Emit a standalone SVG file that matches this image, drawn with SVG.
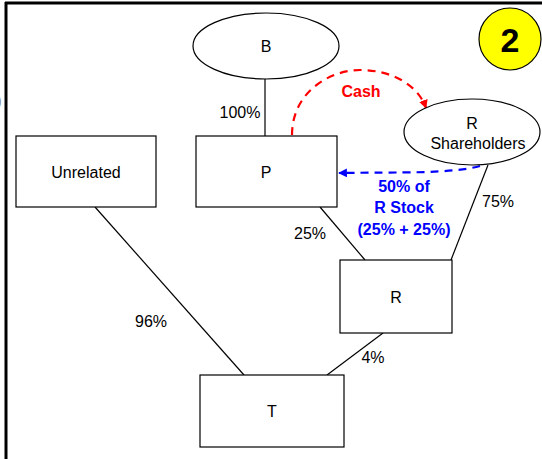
<svg xmlns="http://www.w3.org/2000/svg" width="542" height="459" viewBox="0 0 542 459">
<style>
.n{fill:#fff;stroke:#000;stroke-width:1.2}
.t{font-family:"Liberation Sans",Arial,sans-serif;font-size:16px;fill:#000;text-anchor:middle}
.l{font-family:"Liberation Sans",Arial,sans-serif;font-size:16px;fill:#000;text-anchor:middle}
.c{stroke:#000;stroke-width:1.2;fill:none}
.b{font-family:"Liberation Sans",Arial,sans-serif;font-size:16px;font-weight:bold;text-anchor:middle}
</style>
<defs>
<marker id="ar" viewBox="0 0 10 10" refX="9" refY="5" markerWidth="4" markerHeight="4" orient="auto"><path d="M0,0L10,5L0,10z" fill="#f00"/></marker>
<marker id="ab" viewBox="0 0 10 10" refX="9" refY="5" markerWidth="4" markerHeight="4" orient="auto"><path d="M0,0L10,5L0,10z" fill="#00f"/></marker>
</defs>
<rect width="542" height="459" fill="#fff"/>
<line x1="5" y1="3" x2="542" y2="3" stroke="#000" stroke-width="3"/>
<line x1="6" y1="2" x2="6" y2="459" stroke="#000" stroke-width="3"/>
<text x="-3" y="106" font-family="Liberation Sans,sans-serif" font-size="14" fill="#888">)</text>
<g id="badge">
<circle cx="510" cy="39" r="31" fill="#ff0" stroke="#000" stroke-width="1.2"/>
<text x="510" y="52" class="b" style="font-size:34px">2</text>
</g>
<g id="connectors">
<line class="c" x1="265" y1="79" x2="265" y2="136"/>
<line class="c" x1="320" y1="207" x2="365" y2="260"/>
<line class="c" x1="488" y1="165" x2="451" y2="260"/>
<line class="c" x1="95" y1="207" x2="244" y2="375"/>
<line class="c" x1="383" y1="333" x2="327" y2="375"/>
<path d="M292,135 C292,92 330,70 360,70 C392,70 418,85 426,108" fill="none" stroke="#f00" stroke-width="2.2" stroke-dasharray="8,6" marker-end="url(#ar)"/>
<path d="M480,166 C450,174 400,172 339,173" fill="none" stroke="#00f" stroke-width="2.2" stroke-dasharray="8,6" marker-end="url(#ab)"/>
<text class="l" x="240" y="118">100%</text>
<text class="l" x="310" y="239">25%</text>
<text class="l" x="498" y="207">75%</text>
<text class="l" x="151" y="327">96%</text>
<text class="l" x="373" y="363">4%</text>
<text class="b" x="361" y="97" fill="#f00">Cash</text>
<text class="b" x="404" y="192" fill="#00f">50% of</text>
<text class="b" x="404" y="213" fill="#00f">R Stock</text>
<text class="b" x="404" y="235" fill="#00f">(25% + 25%)</text>
</g>
<g id="B"><ellipse class="n" cx="266" cy="46" rx="73" ry="33"/><text class="t" x="266" y="52">B</text></g>
<g id="P"><rect class="n" x="196" y="136" width="141" height="71"/><text class="t" x="266" y="178">P</text></g>
<g id="Unrelated"><rect class="n" x="16" y="136" width="140" height="71"/><text class="t" x="86" y="178">Unrelated</text></g>
<g id="RShareholders"><ellipse class="n" cx="472" cy="132" rx="68" ry="33"/><text class="t" x="472" y="129">R</text><text class="t" x="478" y="149">Shareholders</text></g>
<g id="R"><rect class="n" x="340" y="260" width="112" height="73"/><text class="t" x="396" y="303">R</text></g>
<g id="T"><rect class="n" x="200" y="375" width="144" height="72"/><text class="t" x="272" y="417">T</text></g>
</svg>
